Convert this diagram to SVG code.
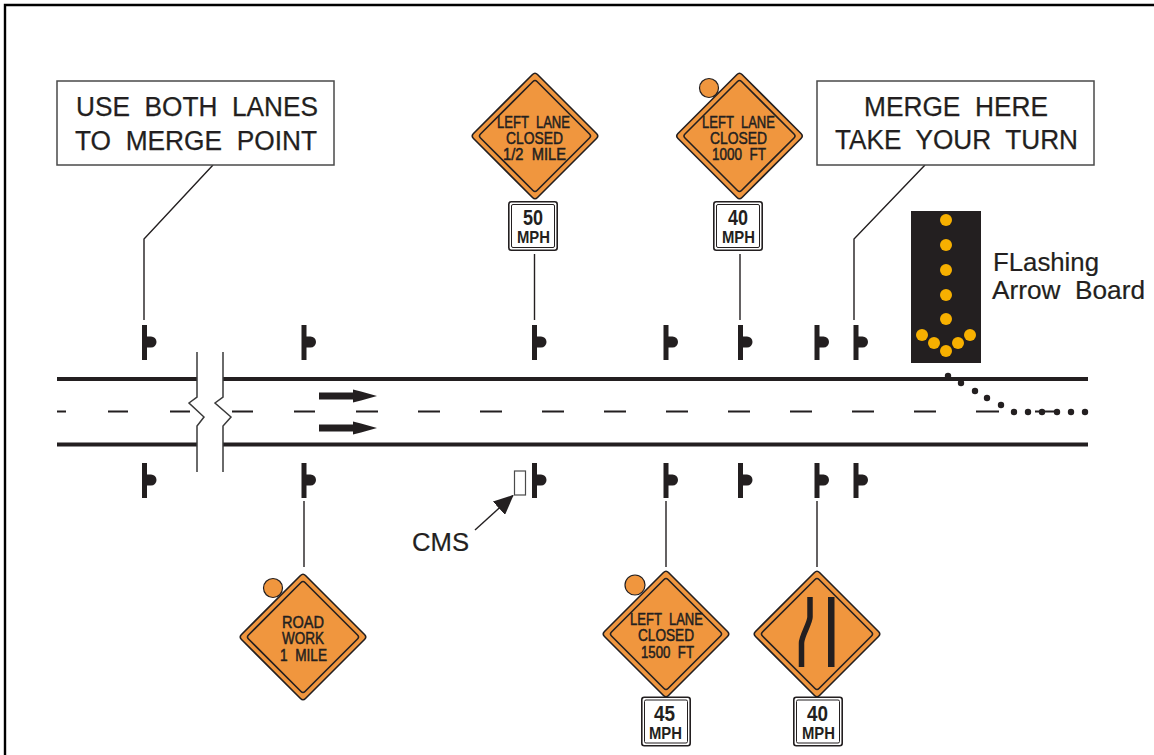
<svg xmlns="http://www.w3.org/2000/svg" width="1154" height="755" viewBox="0 0 1154 755">
<style>
text{font-family:"Liberation Sans",Arial,sans-serif;fill:#231f20;white-space:pre}
.cap{font-size:27px;stroke:#231f20;stroke-width:.25px}
.lab{font-size:26px;stroke:#231f20;stroke-width:.2px}
.dia{font-size:16.500px;stroke:#231f20;stroke-width:.5px}
.num{font-size:22.500px;font-weight:bold}
.mph{font-size:16.500px;font-weight:bold}
.box{fill:#fff;stroke:#4a4a4a;stroke-width:1.5}
.lead{fill:none;stroke:#231f20;stroke-width:1.4}
.road{fill:none;stroke:#231f20;stroke-width:4.200}
.dash{fill:none;stroke:#231f20;stroke-width:2.200}
.brk{fill:none;stroke:#3a3a3a;stroke-width:1.5}
.lamp{fill:#f7b000}
.drum{fill:#231f20}
.dot{fill:#f0963e;stroke:#231f20;stroke-width:1.2}
</style>
<defs>
<g id="post"><rect x="-2.500" y="0" width="5" height="35" fill="#231f20"/><path d="M2 11.500h4.500a5.500 5.500 0 0 1 0 11h-4.500z" fill="#231f20"/></g>
<g id="diamond">
<path d="M-2.500-61.500Q0-64 2.500-61.500L61.500-2.500Q64 0 61.500 2.500L2.500 61.500Q0 64-2.500 61.500L-61.500 2.500Q-64 0-61.500-2.500Z" fill="#f0963e" stroke="#231f20" stroke-width="1.600" stroke-linejoin="round"/>
<path d="M-2-54.500Q0-56.500 2-54.500L54.500-2Q56.500 0 54.500 2L2 54.500Q0 56.500-2 54.500L-54.500 2Q-56.500 0-54.500-2Z" fill="none" stroke="#231f20" stroke-width="1.600"/>
</g>
<g id="speed">
<rect x="0.800" y="0.800" width="48.400" height="48.400" rx="2.500" fill="#fff" stroke="#231f20" stroke-width="1.600"/>
<rect x="3.500" y="3.500" width="43" height="43" rx="1.500" fill="#fff" stroke="#231f20" stroke-width="1"/>
</g>
<marker id="ah" viewBox="0 0 20 18" refX="19" refY="9" markerWidth="20" markerHeight="18" markerUnits="userSpaceOnUse" orient="auto"><path d="M0 0L20 9L0 18Z" fill="#231f20"/></marker>
</defs>

<rect width="1154" height="755" fill="#fff"/>
<path id="frame" d="M5 755V5H1154" fill="none" stroke="#000" stroke-width="2.400"/>

<g id="roadway">
<path class="road" d="M57 379H1088M57 444.500H1088"/>
<path class="dash" d="M57 411.500H66M108 411.500H128M170 411.500H190M232 411.500H253M294 411.500H315M356 411.500H378M418 411.500H440M480 411.500H502M542 411.500H564M604 411.500H626M666 411.500H688M728 411.500H750M790 411.500H812M852 411.500H874M914 411.500H936M976 411.500H999M1035 411.500H1057"/>
<path fill="#fff" d="M197 352V397L189 403L204 417L197 426V472H223V426L231 417L215 403L223 397V352Z"/>
<path class="brk" d="M197 352V397L189 403L204 417L197 426V472M223 352V397L215 403L231 417L223 426V472"/>
<path class="drum" d="M319 392.500H353V389.500L361 391.500L377 396L361 400.500L353 402.500V399.500H319Z"/>
<path class="drum" d="M319 424.500H353V421.500L361 423.500L377 428L361 432.500L353 434.500V431.500H319Z"/>
</g>

<g id="taper" class="drum">
<circle cx="948" cy="376" r="3.200"/><circle cx="961" cy="383" r="3.200"/><circle cx="975" cy="391" r="3.200"/><circle cx="987" cy="398" r="3.200"/><circle cx="1001" cy="405" r="3.200"/><circle cx="1014" cy="412" r="3.200"/><circle cx="1028" cy="412" r="3.200"/><circle cx="1042" cy="412" r="3.200"/><circle cx="1057" cy="412" r="3.200"/><circle cx="1071" cy="412" r="3.200"/><circle cx="1085" cy="412" r="3.200"/>
</g>

<g id="connectors">
<path class="lead" d="M213 165L144 239V320"/>
<path class="lead" d="M925 165L854 239V320"/>
<path class="lead" d="M534.500 254V320"/>
<path class="lead" d="M740 254V320"/>
<path class="lead" d="M304 501V567"/>
<path class="lead" d="M666 501V567"/>
<path class="lead" d="M817 501V567"/>
<path class="lead" d="M475 530L513 495.500" marker-end="url(#ah)"/>
</g>

<g id="posts-top">
<use href="#post" x="144.500" y="325"/><use href="#post" x="304" y="325"/><use href="#post" x="534.500" y="325"/><use href="#post" x="666" y="325"/><use href="#post" x="740.500" y="325"/><use href="#post" x="817" y="325"/><use href="#post" x="856" y="325"/>
</g>
<g id="posts-bottom">
<use href="#post" x="144.500" y="463"/><use href="#post" x="304" y="463"/><use href="#post" x="534.500" y="463"/><use href="#post" x="666" y="463"/><use href="#post" x="740.500" y="463"/><use href="#post" x="817" y="463"/><use href="#post" x="856" y="463"/>
</g>

<g id="callout-use-both">
<rect class="box" x="57" y="81" width="277" height="84"/>
<text class="cap" x="76" y="116" textLength="242" lengthAdjust="spacingAndGlyphs">USE  BOTH  LANES</text>
<text class="cap" x="75" y="149.500" textLength="242" lengthAdjust="spacingAndGlyphs">TO  MERGE  POINT</text>
</g>
<g id="callout-merge-here">
<rect class="box" x="817" y="81" width="277" height="84"/>
<text class="cap" x="864" y="116" textLength="184" lengthAdjust="spacingAndGlyphs">MERGE  HERE</text>
<text class="cap" x="835" y="149" textLength="243" lengthAdjust="spacingAndGlyphs">TAKE  YOUR  TURN</text>
</g>

<g id="arrow-board">
<rect x="911" y="211" width="70" height="152" fill="#231f20"/>
<g class="lamp">
<circle cx="946" cy="220" r="6"/><circle cx="946" cy="245" r="6"/><circle cx="946" cy="270" r="6"/><circle cx="946" cy="295" r="6"/><circle cx="946" cy="319" r="6"/>
<circle cx="922" cy="335" r="6"/><circle cx="934" cy="343" r="6"/><circle cx="946" cy="351" r="6"/><circle cx="958" cy="343" r="6"/><circle cx="970" cy="335" r="6"/>
</g>
<text class="lab" x="993" y="271" textLength="106" lengthAdjust="spacingAndGlyphs">FLashing</text>
<text class="lab" x="992" y="299" textLength="153" lengthAdjust="spacingAndGlyphs">Arrow  Board</text>
</g>

<g id="sign-half-mile">
<use href="#diamond" x="535" y="136"/>
<text class="dia" x="497" y="128" textLength="73" lengthAdjust="spacingAndGlyphs">LEFT  LANE</text>
<text class="dia" x="506" y="144" textLength="57" lengthAdjust="spacingAndGlyphs">CLOSED</text>
<text class="dia" x="503" y="160" textLength="63" lengthAdjust="spacingAndGlyphs">1/2  MILE</text>
<use href="#speed" x="508" y="201"/>
<text class="num" x="523" y="225" textLength="20" lengthAdjust="spacingAndGlyphs">50</text>
<text class="mph" x="517" y="243" textLength="33" lengthAdjust="spacingAndGlyphs">MPH</text>
</g>

<g id="sign-1000-ft">
<circle class="dot" cx="709" cy="88" r="9.500"/>
<use href="#diamond" x="739.500" y="136"/>
<text class="dia" x="702" y="128" textLength="73" lengthAdjust="spacingAndGlyphs">LEFT  LANE</text>
<text class="dia" x="710" y="144" textLength="57" lengthAdjust="spacingAndGlyphs">CLOSED</text>
<text class="dia" x="712" y="160" textLength="54" lengthAdjust="spacingAndGlyphs">1000  FT</text>
<use href="#speed" x="713" y="201"/>
<text class="num" x="728" y="225" textLength="20" lengthAdjust="spacingAndGlyphs">40</text>
<text class="mph" x="722" y="243" textLength="33" lengthAdjust="spacingAndGlyphs">MPH</text>
</g>

<g id="sign-road-work">
<circle class="dot" cx="273" cy="588" r="9.500"/>
<use href="#diamond" x="303" y="637"/>
<text class="dia" x="282" y="628" textLength="42" lengthAdjust="spacingAndGlyphs">ROAD</text>
<text class="dia" x="282" y="644" textLength="42" lengthAdjust="spacingAndGlyphs">WORK</text>
<text class="dia" x="280" y="661" textLength="47" lengthAdjust="spacingAndGlyphs">1  MILE</text>
</g>

<g id="sign-1500-ft">
<circle class="dot" cx="635" cy="585" r="10"/>
<use href="#diamond" x="666" y="634"/>
<text class="dia" x="630" y="625" textLength="73" lengthAdjust="spacingAndGlyphs">LEFT  LANE</text>
<text class="dia" x="638" y="641" textLength="56" lengthAdjust="spacingAndGlyphs">CLOSED</text>
<text class="dia" x="641" y="658" textLength="53" lengthAdjust="spacingAndGlyphs">1500  FT</text>
<use href="#speed" x="641" y="696.500"/>
<text class="num" x="654" y="721" textLength="21" lengthAdjust="spacingAndGlyphs">45</text>
<text class="mph" x="649" y="739" textLength="33" lengthAdjust="spacingAndGlyphs">MPH</text>
</g>

<g id="sign-lane-ends">
<use href="#diamond" x="817" y="634"/>
<path d="M810 597V617C810 623 801.500 636 801.500 643V667" fill="none" stroke="#231f20" stroke-width="5.500"/>
<rect x="828" y="597" width="6.500" height="70" fill="#231f20"/>
<use href="#speed" x="793" y="696.500"/>
<text class="num" x="807" y="721" textLength="21" lengthAdjust="spacingAndGlyphs">40</text>
<text class="mph" x="802" y="739" textLength="33" lengthAdjust="spacingAndGlyphs">MPH</text>
</g>

<g id="cms">
<rect x="514.500" y="471" width="11" height="24" fill="#fff" stroke="#4a4a4a" stroke-width="1.200"/>
<text class="lab" x="412" y="551" textLength="57" lengthAdjust="spacingAndGlyphs">CMS</text>
</g>
</svg>
